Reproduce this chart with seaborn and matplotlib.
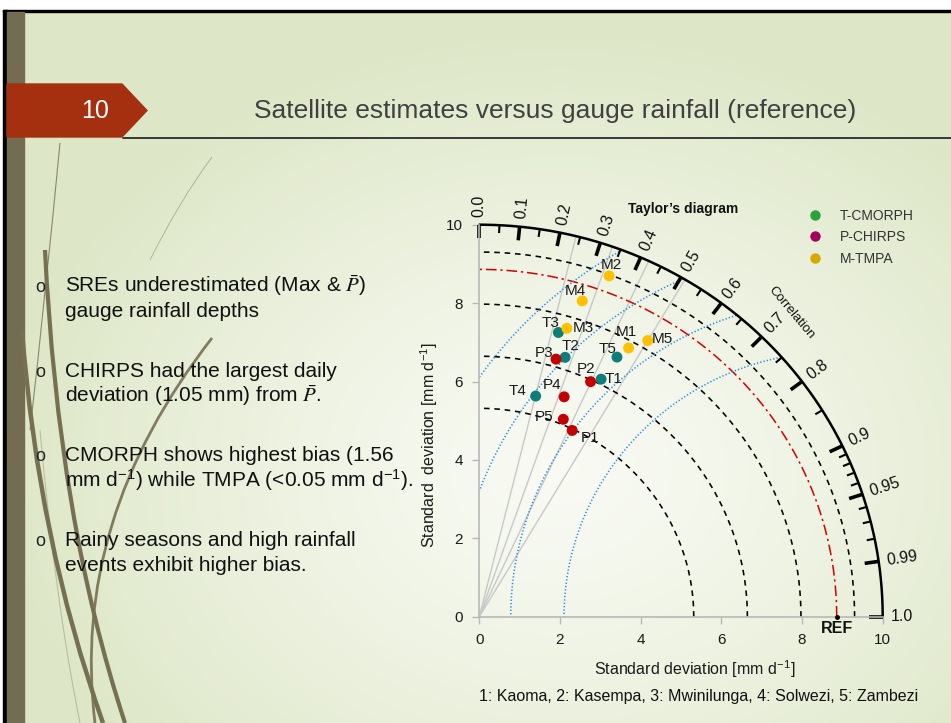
import matplotlib
matplotlib.use("Agg")
import matplotlib.pyplot as plt
from matplotlib.lines import Line2D
from matplotlib.patches import PathPatch, Polygon, Rectangle
from matplotlib.path import Path
import numpy as np
import pandas as pd
import seaborn as sns

# === Values ===
ref_std = 8.86
std_levels = [0.6, 0.75, 0.9, 1.05]          # dashed arcs, fraction of REF
rms_radii = [6.76, 8.08, 9.42, 10.76]        # dotted arcs centred on REF
ray_corr = [0.24, 0.33, 0.42, 0.51]          # grey rays from origin

cmorph_std = [6.77, 6.95, 7.51, 5.80, 7.45]
cmorph_corr = [0.446, 0.306, 0.261, 0.241, 0.458]
chirps_std = [5.28, 6.60, 6.84, 5.99, 5.45]
chirps_corr = [0.436, 0.418, 0.278, 0.351, 0.382]
tmpa_std = [7.79, 9.27, 7.67, 8.45, 8.19]
tmpa_corr = [0.475, 0.347, 0.283, 0.302, 0.510]

major_corr = [0.0, 0.1, 0.2, 0.3, 0.4, 0.5, 0.6, 0.7, 0.8, 0.9, 0.95, 0.99, 1.0]
major_labels = ["0.0", "0.1", "0.2", "0.3", "0.4", "0.5", "0.6", "0.7", "0.8",
                "0.9", "0.95", "0.99", "1.0"]
minor_corr = [0.05, 0.15, 0.25, 0.35, 0.45, 0.55, 0.65, 0.75, 0.85,
              0.91, 0.92, 0.93, 0.94, 0.96, 0.97, 0.98]
std_ticks = [0, 2, 4, 6, 8, 10]

legend_names = ["T-CMORPH", "P-CHIRPS", "M-TMPA"]
station_note = "1: Kaoma, 2: Kasempa, 3: Mwinilunga, 4: Solwezi, 5: Zambezi"

bullets = [
    ["SREs underestimated (Max & $\\bar{P}$)", "gauge rainfall depths"],
    ["CHIRPS had the largest daily", "deviation (1.05 mm) from $\\bar{P}$."],
    ["CMORPH shows highest bias (1.56",
     "mm d$^{\\mathregular{-1}}$) while TMPA (<0.05 mm d$^{\\mathregular{-1}}$)."],
    ["Rainy seasons and high rainfall", "events exhibit higher bias."],
]

# --- styles ---
marker_colors = {"T-CMORPH": "#0f7d7a", "P-CHIRPS": "#c40000", "M-TMPA": "#ffc000"}
legend_colors = ["#2ba33a", "#a5005c", "#d6a900"]
label_offsets = {  # pixel offsets of point labels
    "T1": (12, 0), "T2": (5, 11), "T3": (-8, 10), "T4": (-18, 5), "T5": (-9, 8),
    "P1": (18, -8), "P2": (-5, 13), "P3": (-12, 6), "P4": (-12, 12), "P5": (-19, 2),
    "M1": (-2, 16), "M2": (2, 11), "M3": (17, 0), "M4": (-7, 10), "M5": (15, 2),
}

sns.set_style("white")
plt.rcParams["font.family"] = ["Liberation Sans", "DejaVu Sans"]
plt.rcParams["mathtext.fontset"] = "stix"

W, H = 951, 723
fig = plt.figure(figsize=(W / 100, H / 100), dpi=100)

# --- slide background ---
bg = fig.add_axes([0, 0, 1, 1], zorder=0)
bg.set_xlim(0, W)
bg.set_ylim(H, 0)
bg.axis("off")
yy, xx = np.mgrid[0:H, 0:W]
d = np.hypot((xx - 560) / 560, (yy - 470) / 440)
t = np.clip(d, 0, 1) ** 1.3
light = np.array([0.975, 0.982, 0.955])
dark = np.array([0.868, 0.905, 0.78])
img = light * (1 - t[..., None]) + dark * t[..., None]
bg.imshow(img, extent=(0, W, H, 0), aspect="auto", zorder=0)

bg.add_patch(Rectangle((0, 0), W, 9.5, color="white", zorder=1))
bg.add_patch(Rectangle((0, 0), 3, H, color="white", zorder=1))
bg.add_patch(Rectangle((3, 9.5), W, 2.5, color="black", zorder=2))
bg.add_patch(Rectangle((3, 9.5), 4, H, color="black", zorder=2))
bg.add_patch(Rectangle((7, 12), 17, H, color="#736c52", zorder=2))

# decorative grass strokes
grass = [
    ([(22, 330), (38, 540), (103, 723)], 3.2, 1.0),
    ([(45, 250), (58, 520), (125, 723)], 3.0, 1.0),
    ([(212, 338), (70, 520), (95, 723)], 2.0, 0.9),
    ([(60, 143), (45, 300), (30, 430)], 0.8, 0.8),
    ([(212, 157), (180, 200), (150, 260)], 0.6, 0.5),
    ([(40, 430), (55, 600), (80, 723)], 0.8, 0.35),
]
for pts, lw, al in grass:
    path = Path(pts, [Path.MOVETO, Path.CURVE3, Path.CURVE3])
    bg.add_patch(PathPatch(path, fill=False, edgecolor="#766f52", lw=lw,
                           alpha=al, zorder=3))

# header banner
bg.add_patch(Polygon([(7, 84), (122, 84), (147, 110.5), (122, 137), (7, 137)],
                     closed=True, color="#a5300f", zorder=4))
fig.text(95 / W, 1 - 111 / H, "10", color="white", fontsize=18,
         ha="center", va="center")
bg.plot([123, W], [138, 138], color="#2b2b2b", lw=1.3, zorder=4)
fig.text(555 / W, 1 - 111 / H,
         "Satellite estimates versus gauge rainfall (reference)",
         color="#404040", fontsize=19, ha="center", va="center")

# bullet text
baselines = [(292, 317), (377, 402), (461, 487), (546, 571)]
for lines, ys in zip(bullets, baselines):
    fig.text(35 / W, 1 - ys[0] / H, "o", fontsize=13, color="#222222",
             va="baseline")
    for line, yb in zip(lines, ys):
        fig.text(65 / W, 1 - yb / H, line, fontsize=15, color="#111111",
                 va="baseline")

# === Taylor diagram axes ===
px_x, px_y = 40.34, 39.2
x0, y0 = 479.3, 616.7
lim = 10.6
ax = fig.add_axes([x0 / W, (H - y0) / H, lim * px_x / W, lim * px_y / H], zorder=5)
ax.set_facecolor("none")
ax.set_xlim(0, lim)
ax.set_ylim(0, lim)

theta = np.linspace(0, np.pi / 2, 400)

# grey rays
for c in ray_corr:
    th = np.arccos(c)
    ax.plot([0, 10 * np.cos(th)], [0, 10 * np.sin(th)], color="#c8c8c8", lw=1.0)

# std arcs
for lev in std_levels:
    r = lev * ref_std
    ax.plot(r * np.cos(theta), r * np.sin(theta), color="black", lw=1.15,
            ls=(0, (3.5, 3)))
ax.plot(ref_std * np.cos(theta), ref_std * np.sin(theta), color="#d20000",
        lw=1.1, ls=(0, (7, 2.5, 1.5, 2.5)))

# centred RMS arcs
phi = np.linspace(0, np.pi, 1200)
for rr in rms_radii:
    xs = ref_std + rr * np.cos(phi)
    ys = rr * np.sin(phi)
    keep = (xs >= 0) & (np.hypot(xs, ys) <= 10)
    ax.plot(np.where(keep, xs, np.nan), np.where(keep, ys, np.nan),
            color="#2a8be0", lw=1.15, ls=(0, (0.8, 1.3)))

# outer correlation arc and ticks
ax.plot(10 * np.cos(theta), 10 * np.sin(theta), color="black", lw=1.8,
        clip_on=False)
for c in major_corr:
    th = np.arccos(c)
    r = np.array([9.65, 10.0])
    ax.plot(r * np.cos(th), r * np.sin(th), color="black", lw=2.6,
            solid_capstyle="butt", clip_on=False)
for c in minor_corr:
    th = np.arccos(c)
    r = np.array([9.8, 10.0])
    ax.plot(r * np.cos(th), r * np.sin(th), color="black", lw=1.5,
            solid_capstyle="butt", clip_on=False)
for c, lab in zip(major_corr, major_labels):
    th = np.arccos(c)
    ax.text(10.2 * np.cos(th), 10.2 * np.sin(th), lab, fontsize=11.5,
            rotation=np.degrees(th), rotation_mode="anchor", ha="left",
            va="center", color="#111111", clip_on=False)
ax.text(10.95 * np.cos(np.radians(45)), 10.95 * np.sin(np.radians(45)),
        "Correlation", fontsize=9.5, rotation=-50, rotation_mode="anchor",
        ha="center", va="center", color="#111111")

# points
rows = []
for prefix, name, stds, corrs in [("T", "T-CMORPH", cmorph_std, cmorph_corr),
                                  ("P", "P-CHIRPS", chirps_std, chirps_corr),
                                  ("M", "M-TMPA", tmpa_std, tmpa_corr)]:
    for i, (s, c) in enumerate(zip(stds, corrs), start=1):
        rows.append({"product": name, "label": f"{prefix}{i}",
                     "x": s * c, "y": s * np.sqrt(1 - c * c)})
df = pd.DataFrame(rows)

sns.scatterplot(data=df, x="x", y="y", hue="product", palette=marker_colors,
                s=62, linewidth=0, legend=False, ax=ax, zorder=6)
for _, row in df.iterrows():
    ax.annotate(row["label"], (row["x"], row["y"]),
                xytext=label_offsets[row["label"]], textcoords="offset pixels",
                ha="center", va="center", fontsize=11, color="#1a1a1a",
                zorder=7)

# REF marker
ax.plot([ref_std], [0], "o", color="black", ms=2.5, clip_on=False, zorder=7)
ax.text(ref_std, -0.3, "REF", fontsize=11.5, fontweight="bold",
        ha="center", va="center", color="#111111")

# axes styling
for side in ["top", "right"]:
    ax.spines[side].set_visible(False)
for side in ["left", "bottom"]:
    ax.spines[side].set_color("#b8b8b8")
    ax.spines[side].set_linewidth(1.2)
    ax.spines[side].set_bounds(0, 10)
ax.set_xticks(std_ticks)
ax.set_yticks(std_ticks)
ax.tick_params(axis="both", length=5, width=1, color="#b8b8b8", labelsize=11,
               labelcolor="#1a1a1a", pad=7, direction="out",
               bottom=True, left=True)
ax.set_xlabel("Standard deviation [mm d$^{\\mathregular{-1}}$]", fontsize=11.5,
              color="#1a1a1a")
ax.set_ylabel("Standard  deviation [mm d$^{\\mathregular{-1}}$]", fontsize=11.5,
              color="#1a1a1a")
ax.xaxis.set_label_coords((695 - x0) / (lim * px_x), -(658 - y0) / (lim * px_y))
ax.yaxis.set_label_coords(-(x0 - 439) / (lim * px_x), (y0 - 445) / (lim * px_y))

fig.text(683 / W, 1 - 209 / H, "Taylor\u2019s diagram", fontsize=10,
         fontweight="bold", ha="center", va="center", color="#111111")

handles = [Line2D([], [], marker="o", ls="none", ms=7.5, color=col, mec="none")
           for col in legend_colors]
fig.legend(handles, legend_names, loc="upper left",
           bbox_to_anchor=(794 / W, 1 - 196 / H), frameon=False, fontsize=10,
           labelspacing=0.55, handletextpad=1.2, handlelength=1.2,
           labelcolor="#333333")

fig.text(479 / W, 1 - 697 / H, station_note, fontsize=11.5, color="#111111",
         ha="left", va="center")

fig.savefig("out.png", dpi=100)
